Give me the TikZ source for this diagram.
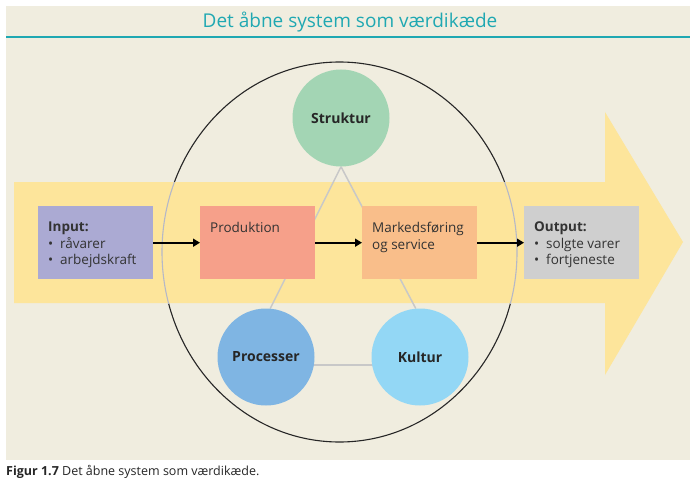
\documentclass[tikz,border=0pt]{standalone}
\usepackage{fontspec}
\setmainfont{Open Sans}
\usetikzlibrary{arrows.meta}
\pgfdeclarelayer{bg}
\pgfdeclarelayer{mid}
\pgfsetlayers{bg,mid,main}
\definecolor{panelc}{HTML}{F0EDDF}
\definecolor{tealc}{HTML}{1FA8B2}
\definecolor{yellowc}{HTML}{FDE59B}
\definecolor{inputc}{HTML}{ABAAD3}
\definecolor{prodc}{HTML}{F6A08A}
\definecolor{markc}{HTML}{F9BE8A}
\definecolor{outc}{HTML}{CFCFCF}
\definecolor{strukc}{HTML}{A3D5B4}
\definecolor{procc}{HTML}{7FB5E3}
\definecolor{kultc}{HTML}{93D7F5}
\definecolor{linec}{HTML}{C8C8C8}
\definecolor{ellgray}{HTML}{B5B8C8}
\definecolor{textc}{HTML}{333333}
\tikzset{
  box/.style={rectangle, draw=none, minimum width=115pt, minimum height=73pt, inner sep=0pt, anchor=north west},
  boxtext/.style={anchor=north west, inner sep=0pt, align=left, text=textc, font=\fontsize{13.5}{16.5}\selectfont},
  circ/.style={circle, draw=none, minimum size=97pt, inner sep=0pt, text=black!85, font=\fontsize{14}{16}\selectfont\bfseries},
  flow/.style={line width=1.6pt, -{Triangle[length=7pt,width=8pt]}},
  tri/.style={linec, line width=1.5pt},
}
\newcommand{\bul}{\makebox[12pt][l]{\textbullet}}
\begin{document}
\begin{tikzpicture}[x=1pt,y=-1pt]
\useasboundingbox (0,0) rectangle (700,489);
\begin{pgfonlayer}{bg}
\fill[white] (0,0) rectangle (700,489);
\fill[panelc] (6,6) rectangle (690,460);
\draw[tealc, line width=2pt] (6,37) -- (690,37);
% big ellipse
\draw[black!85, line width=1.1pt] (339.5,252) ellipse [x radius=177.5, y radius=190];
% big arrow
\fill[yellowc] (14,182) -- (605,182) -- (605,112) -- (683,242) -- (605,375) -- (605,303) -- (14,303) -- cycle;
\begin{scope}
\clip (14,182) rectangle (605,303);
\draw[ellgray, line width=1.1pt] (339.5,252) ellipse [x radius=177.5, y radius=190];
\end{scope}
\end{pgfonlayer}
\node[text=tealc, font=\fontsize{19}{22}\selectfont] (title) at (350,22) {Det åbne system som værdikæde};
% circles
\node[circ, fill=strukc] (struk) at (341,118) {Struktur};
\node[circ, fill=procc] (proc) at (266,357) {Processer};
\node[circ, fill=kultc] (kult) at (420,357) {Kultur};
% triangle lines
\begin{pgfonlayer}{mid}
\draw[tri] (struk.south) -- (proc.85);
\draw[tri] (struk.south) -- (kult.95);
\draw[tri] ([yshift=-8pt]proc.center) -- ([yshift=-8pt]kult.center);
\end{pgfonlayer}
% boxes
\node[box, fill=inputc] (inp) at (38,206) {};
\node[box, fill=prodc] (prod) at (200,206) {};
\node[box, fill=markc] (mark) at (362,206) {};
\node[box, fill=outc] (outp) at (524,206) {};
\node[boxtext] (inpt) at (48,222) {\textbf{Input:}\\ \bul råvarer\\ \bul arbejdskraft};
\node[boxtext] (prodt) at (210,222) {Produktion};
\node[boxtext] (markt) at (372,222) {Markedsføring\\ og service};
\node[boxtext] (outpt) at (534,222) {\textbf{Output:}\\ \bul solgte varer\\ \bul fortjeneste};
% flow arrows
\draw[flow] (inp.east) -- (prod.west);
\draw[flow] (prod.east) -- (mark.west);
\draw[flow] (mark.east) -- (outp.west);
% caption
\node[anchor=west, inner sep=0pt, text=black!85, font=\fontsize{12.5}{14}\selectfont] (cap) at (6,472) {\textbf{Figur 1.7} Det åbne system som værdikæde.};
\end{tikzpicture}
\end{document}
